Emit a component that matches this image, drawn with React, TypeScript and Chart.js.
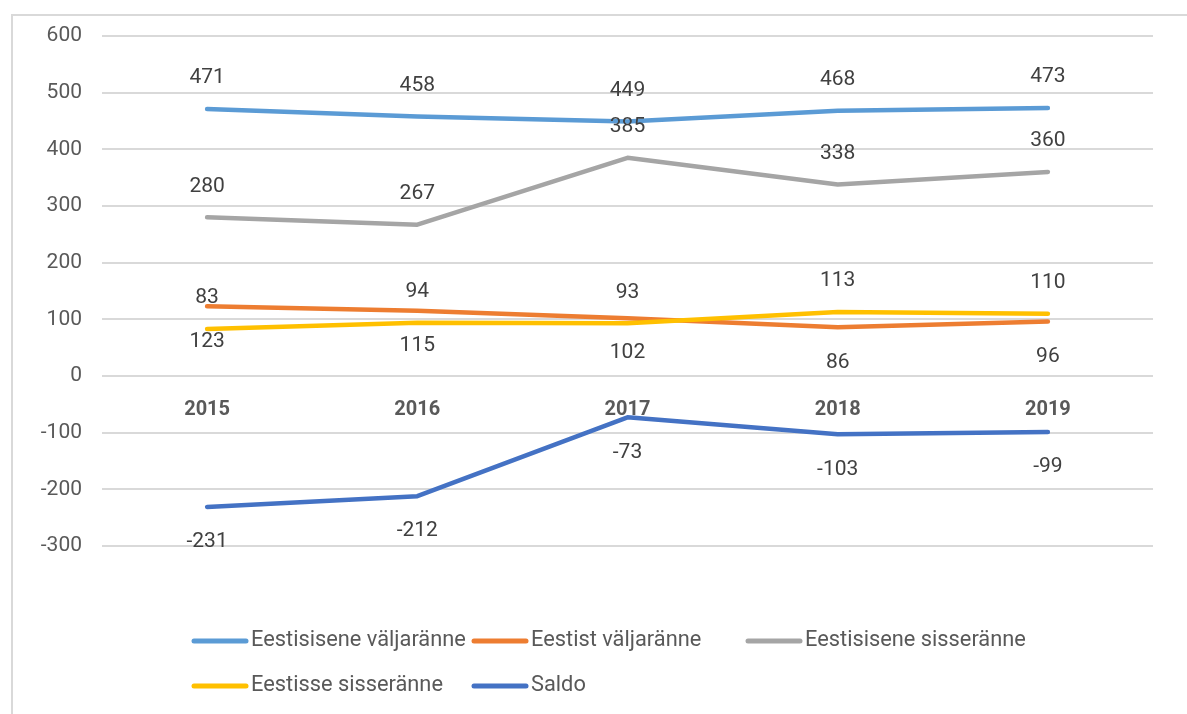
import React, { useEffect, useRef } from "react";
import { Chart, registerables } from "chart.js";

Chart.register(...registerables);

const categories = ["2015", "2016", "2017", "2018", "2019"];
const seriesNames = [
  "Eestisisene väljaränne",
  "Eestist väljaränne",
  "Eestisisene sisseränne",
  "Eestisse sisseränne",
  "Saldo",
];
const eestisiseneValjaranne = [471, 458, 449, 468, 473];
const eestistValjaranne = [123, 115, 102, 86, 96];
const eestisiseneSisseranne = [280, 267, 385, 338, 360];
const eestisseSisseranne = [83, 94, 93, 113, 110];
const saldo = [-231, -212, -73, -103, -99];
const seriesColors = ["#5B9BD5", "#ED7D31", "#A5A5A5", "#FFC000", "#4472C4"];
const labelSide = ["above", "below", "above", "above", "below"];
const yTicks = { min: -300, max: 600, step: 100 };

const FONT = "Roboto";
const FS = 21;

const dataLabelPlugin = {
  id: "dataLabels",
  afterDatasetsDraw(chart: any) {
    const ctx = chart.ctx;
    ctx.save();
    ctx.font = `${FS}px ${FONT}`;
    ctx.fillStyle = "#404040";
    ctx.textAlign = "center";
    ctx.textBaseline = "middle";
    chart.data.datasets.forEach((ds: any, i: number) => {
      const meta = chart.getDatasetMeta(i);
      meta.data.forEach((pt: any, j: number) => {
        const off = labelSide[i] === "above" ? -31 : 35;
        ctx.fillText(String(ds.data[j]), pt.x, pt.y + off);
      });
    });
    ctx.restore();
  },
};

const legendCols = [192, 472, 746];
const legendRows = [641, 686];

const customLegendPlugin = {
  id: "customLegend",
  afterDraw(chart: any) {
    const ctx = chart.ctx;
    ctx.save();
    ctx.font = `21.8px ${FONT}`;
    ctx.textAlign = "left";
    ctx.textBaseline = "middle";
    chart.data.datasets.forEach((ds: any, i: number) => {
      const x = legendCols[i % 3];
      const y = legendRows[Math.floor(i / 3)];
      ctx.strokeStyle = ds.borderColor;
      ctx.lineWidth = 5;
      ctx.lineCap = "round";
      ctx.beginPath();
      ctx.moveTo(x + 2, y);
      ctx.lineTo(x + 54, y);
      ctx.stroke();
      ctx.fillStyle = "#595959";
      ctx.fillText(ds.label, x + 59, y);
    });
    ctx.restore();
  },
};

export default function App() {
  const ref = useRef<HTMLCanvasElement>(null);
  useEffect(() => {
    if (!ref.current) return;
    const all = [
      eestisiseneValjaranne,
      eestistValjaranne,
      eestisiseneSisseranne,
      eestisseSisseranne,
      saldo,
    ];
    const chart = new Chart(ref.current, {
      type: "line",
      data: {
        labels: categories,
        datasets: all.map((d, i) => ({
          label: seriesNames[i],
          data: d,
          borderColor: seriesColors[i],
          backgroundColor: seriesColors[i],
          borderWidth: 4.5,
          borderCapStyle: "round",
          borderJoinStyle: "round",
          pointRadius: 0,
          tension: 0,
          order: 10 - i,
        })),
      },
      options: {
        responsive: false,
        animation: false,
        layout: { padding: { left: 0, top: 36, right: 34, bottom: 168 } },
        plugins: { legend: { display: false }, tooltip: { enabled: false } },
        scales: {
          x: {
            type: "category",
            position: { y: 0 } as any,
            offset: true,
            grid: { display: false },
            border: { display: false },
            ticks: {
              color: "#595959",
              font: { family: FONT, size: 20, weight: "bold" },
              padding: 14,
              maxRotation: 0,
            },
          },
          y: {
            min: yTicks.min,
            max: yTicks.max,
            afterFit: (s: any) => {
              s.width = 102;
            },
            ticks: {
              stepSize: yTicks.step,
              color: "#595959",
              font: { family: FONT, size: FS },
              padding: 20,
            },
            grid: { color: "#d9d9d9", lineWidth: 2, drawTicks: false },
            border: { display: false },
          },
        },
      },
      plugins: [dataLabelPlugin, customLegendPlugin],
    } as any);
    return () => chart.destroy();
  }, []);
  return (
    <div
      style={{
        position: "fixed",
        left: 0,
        top: 0,
        width: 1187,
        height: 714,
        overflow: "hidden",
        background: "#fff",
      }}
    >
      <div
        style={{
          position: "absolute",
          left: 11,
          top: 14,
          width: 1300,
          height: 800,
          border: "2px solid #d9d9d9",
          boxSizing: "border-box",
        }}
      />
      <canvas
        ref={ref}
        width={1187}
        height={714}
        style={{ position: "absolute", left: 0, top: 0 }}
      />
    </div>
  );
}
